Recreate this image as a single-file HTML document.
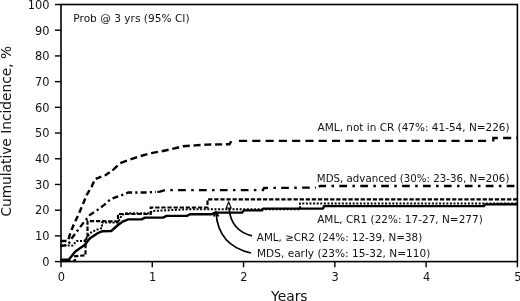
<!DOCTYPE html>
<html><head><meta charset="utf-8"><title>Cumulative Incidence</title>
<style>
html,body{margin:0;padding:0;background:#fff;}
body{width:520px;height:301px;overflow:hidden;}
svg{display:block;}
text{font-family:"DejaVu Sans","Liberation Sans",sans-serif;fill:#111;}
.t10{font-size:9.7px;}
.t11{font-size:11.4px;}
.t13{font-size:13.8px;}
</style></head><body>
<svg width="520" height="301" viewBox="0 0 520 301">
<rect width="520" height="301" fill="#fff"/>
<path d="M60.5,245.6 L72.6,245.6 L76.6,241.0 L84.6,241.0 L86.6,238.0 L90.0,233.0 L96.0,230.0 L102.0,228.0 L102.0,222.5 L118.0,222.5 L122.0,215.0 L126.0,213.3 L150.0,213.3 L152.0,211.0 L190.0,209.2 L300.0,209.2 L300.0,203.4 L517.5,203.4" fill="none" stroke="#000" stroke-width="2" stroke-dasharray="2 1.6"/>
<path d="M60.5,261.0 L75.0,261.0 L75.0,256.3 L85.5,255.2 L85.5,240.0 L87.5,238.0 L87.5,221.0 L118.0,221.4 L118.0,214.0 L150.7,214.0 L150.7,207.5 L207.5,207.5 L207.5,199.4 L517.5,199.4" fill="none" stroke="#000" stroke-width="2.2" stroke-dasharray="4.3 1.8"/>
<path d="M60.5,246.0 L68.0,245.0 L72.0,238.0 L78.0,230.0 L84.0,222.0 L90.0,214.8 L97.5,209.9 L104.2,204.9 L110.8,199.0 L122.4,194.9 L128.3,192.5 L145.0,192.5 L156.0,191.9" fill="none" stroke="#000" stroke-width="2.3" stroke-dasharray="6 3.2 2.2 3.2"/>
<path d="M157.4,191.8 L160.0,191.6 L165.0,190.2 L263.0,190.2 L264.0,188.0 L316.0,187.6" fill="none" stroke="#000" stroke-width="2.3" stroke-dasharray="7.7 5.4 2.5 5.3"/>
<path d="M318.7,186.9 L320.0,186.0 L517.5,186.0" fill="none" stroke="#000" stroke-width="2.3" stroke-dasharray="7.7 5.4 2.5 5.32"/>
<path d="M60.5,241.0 L68.0,241.0 L70.3,233.0 L74.0,224.0 L78.4,214.8 L82.6,204.9 L86.7,194.9 L91.7,186.6 L95.0,179.1 L105.8,175.0 L112.5,170.5" fill="none" stroke="#000" stroke-width="2.4" stroke-dasharray="6 3.5"/>
<path d="M112.5,170.5 L120.0,163.2 L130.0,159.6 L140.0,156.2 L150.0,153.3 L161.5,151.3 L171.5,149.1 L183.0,146.3 L195.0,145.4 L207.4,144.6 L229.5,144.2 L231.5,140.8 L234.0,140.8" fill="none" stroke="#000" stroke-width="2.4" stroke-dasharray="7 3.8"/>
<path d="M239.0,140.8 L487.0,140.8" fill="none" stroke="#000" stroke-width="2.3" stroke-dasharray="8.1 5.18"/>
<path d="M493.3,141.5 L493.3,138.0 L517.5,138.0" fill="none" stroke="#000" stroke-width="2.3" stroke-dasharray="8.1 5.18"/>
<path d="M60.5,259.8 L68.6,259.8 L75.3,251.6 L84.6,245.0 L90.0,238.3 L98.0,233.0 L102.0,231.3 L111.2,231.0 L118.0,225.0 L123.2,221.3 L128.3,219.4 L141.6,219.4 L145.0,217.6 L163.0,217.6 L166.5,215.9 L187.0,215.9 L190.0,214.3 L211.7,214.3 L215.0,212.6 L242.0,212.6 L244.0,210.4 L262.0,210.4 L263.0,208.6 L323.0,208.6 L324.0,206.1 L484.0,206.1 L485.0,204.4 L517.5,204.3" fill="none" stroke="#000" stroke-width="2.4" stroke-linejoin="round"/>
<rect x="61.0" y="4.5" width="456.4" height="257.1" fill="none" stroke="#000" stroke-width="1.6"/>
<line x1="54.9" y1="261.60" x2="61.0" y2="261.60" stroke="#000" stroke-width="1.4"/>
<text x="49.4" y="265.90" text-anchor="end" class="t11">0</text>
<line x1="54.9" y1="235.89" x2="61.0" y2="235.89" stroke="#000" stroke-width="1.4"/>
<text x="49.4" y="240.19" text-anchor="end" class="t11">10</text>
<line x1="54.9" y1="210.18" x2="61.0" y2="210.18" stroke="#000" stroke-width="1.4"/>
<text x="49.4" y="214.48" text-anchor="end" class="t11">20</text>
<line x1="54.9" y1="184.47" x2="61.0" y2="184.47" stroke="#000" stroke-width="1.4"/>
<text x="49.4" y="188.77" text-anchor="end" class="t11">30</text>
<line x1="54.9" y1="158.76" x2="61.0" y2="158.76" stroke="#000" stroke-width="1.4"/>
<text x="49.4" y="163.06" text-anchor="end" class="t11">40</text>
<line x1="54.9" y1="133.05" x2="61.0" y2="133.05" stroke="#000" stroke-width="1.4"/>
<text x="49.4" y="137.35" text-anchor="end" class="t11">50</text>
<line x1="54.9" y1="107.34" x2="61.0" y2="107.34" stroke="#000" stroke-width="1.4"/>
<text x="49.4" y="111.64" text-anchor="end" class="t11">60</text>
<line x1="54.9" y1="81.63" x2="61.0" y2="81.63" stroke="#000" stroke-width="1.4"/>
<text x="49.4" y="85.93" text-anchor="end" class="t11">70</text>
<line x1="54.9" y1="55.92" x2="61.0" y2="55.92" stroke="#000" stroke-width="1.4"/>
<text x="49.4" y="60.22" text-anchor="end" class="t11">80</text>
<line x1="54.9" y1="30.21" x2="61.0" y2="30.21" stroke="#000" stroke-width="1.4"/>
<text x="49.4" y="34.51" text-anchor="end" class="t11">90</text>
<line x1="54.9" y1="4.50" x2="61.0" y2="4.50" stroke="#000" stroke-width="1.4"/>
<text x="49.4" y="8.80" text-anchor="end" class="t11">100</text>
<line x1="61.00" y1="261.6" x2="61.00" y2="267.3" stroke="#000" stroke-width="1.4"/>
<text x="61.40" y="281" text-anchor="middle" class="t11">0</text>
<line x1="152.28" y1="261.6" x2="152.28" y2="267.3" stroke="#000" stroke-width="1.4"/>
<text x="152.68" y="281" text-anchor="middle" class="t11">1</text>
<line x1="243.56" y1="261.6" x2="243.56" y2="267.3" stroke="#000" stroke-width="1.4"/>
<text x="243.96" y="281" text-anchor="middle" class="t11">2</text>
<line x1="334.84" y1="261.6" x2="334.84" y2="267.3" stroke="#000" stroke-width="1.4"/>
<text x="335.24" y="281" text-anchor="middle" class="t11">3</text>
<line x1="426.12" y1="261.6" x2="426.12" y2="267.3" stroke="#000" stroke-width="1.4"/>
<text x="426.52" y="281" text-anchor="middle" class="t11">4</text>
<line x1="517.40" y1="261.6" x2="517.40" y2="267.3" stroke="#000" stroke-width="1.4"/>
<text x="517.80" y="281" text-anchor="middle" class="t11">5</text>
<path d="M216,212.5 C217,228 224,247 251,253" fill="none" stroke="#000" stroke-width="1.7"/>
<path d="M213.6,216.5 L216,212 L218.6,216.5" fill="none" stroke="#000" stroke-width="1.7"/>
<path d="M229,208 C230,220 236,232 252,235.8" fill="none" stroke="#000" stroke-width="1.7"/>
<path d="M228.7,202 L231.2,208 L226.2,208 Z" fill="#fff" stroke="#000" stroke-width="1.1"/>
<text x="73.3" y="22.1" class="t10" textLength="116.3" lengthAdjust="spacingAndGlyphs">Prob @ 3 yrs (95% CI)</text>
<text x="317.6" y="130.8" class="t10" textLength="192.0" lengthAdjust="spacingAndGlyphs">AML, not in CR (47%: 41-54, N=226)</text>
<text x="316.8" y="182" class="t10" textLength="192.6" lengthAdjust="spacingAndGlyphs">MDS, advanced (30%: 23-36, N=206)</text>
<text x="317.2" y="223.1" class="t10" textLength="165.6" lengthAdjust="spacingAndGlyphs">AML, CR1 (22%: 17-27, N=277)</text>
<text x="256.8" y="240.8" class="t10" textLength="165.4" lengthAdjust="spacingAndGlyphs">AML, ≥CR2 (24%: 12-39, N=38)</text>
<text x="257" y="256.8" class="t10" textLength="173.3" lengthAdjust="spacingAndGlyphs">MDS, early (23%: 15-32, N=110)</text>
<text x="289.3" y="300.6" text-anchor="middle" class="t13">Years</text>
<text transform="translate(10.5,131.3) rotate(-90)" text-anchor="middle" class="t13" textLength="170.6" lengthAdjust="spacingAndGlyphs">Cumulative Incidence, %</text>
</svg>
</body></html>
